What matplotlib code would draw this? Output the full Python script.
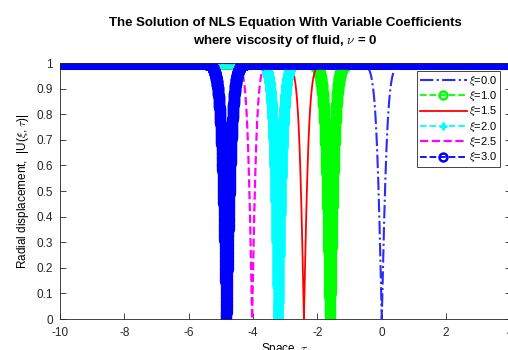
import numpy as np
import matplotlib
matplotlib.use("Agg")
import matplotlib.pyplot as plt

plt.rcParams['font.family'] = ['Liberation Sans', 'DejaVu Sans']
plt.rcParams['mathtext.fontset'] = 'cm'
plt.rcParams['axes.unicode_minus'] = False

# values
xi_values = [0.0, 1.0, 1.5, 2.0, 2.5, 3.0]
dip_centers = [0.0, -1.61, -2.42, -3.22, -4.03, -4.83]
dip_sharpness = [5.5, 6.0, 6.0, 6.0, 6.5, 5.5]
legend_labels = [r'$\xi$=%.1f' % v for v in xi_values]

# styles for each curve
styles = [
    dict(color='#2a2aff', ls='-.', lw=1.5),
    dict(color='#00ff00', ls='--', lw=1.3, marker='o', ms=6.3, mfc='none', mew=1.8),
    dict(color='#ff0000', ls='-', lw=1.3),
    dict(color='#00ffff', ls='--', lw=1.3, marker='+', ms=7, mew=2.2),
    dict(color='#ff00ff', ls='--', lw=1.6),
    dict(color='#0000ff', ls='--', lw=1.3, marker='o', ms=6.3, mfc='none', mew=1.8),
]

tau = np.linspace(-10, 10, 20001)

fig = plt.figure(figsize=(5.08, 3.5), dpi=100)
ax = fig.add_axes([60 / 508, 1 - 319 / 350, 450.5 / 508, 256 / 350])

for c, k, lab, st in zip(dip_centers, dip_sharpness, legend_labels, styles):
    U = np.abs(np.tanh(k * (tau - c)))
    ax.plot(tau, U, label=lab, **st)

ax.set_xlim(-10, 4)
ax.set_ylim(0, 1)
ax.set_xticks(np.arange(-10, 5, 2))
ax.set_yticks(np.arange(0, 1.01, 0.1))
ax.set_yticklabels(['0', '0.1', '0.2', '0.3', '0.4', '0.5', '0.6', '0.7', '0.8', '0.9', '1'])
ax.tick_params(direction='in', length=4, width=0.6, labelsize=8.5,
               colors='#262626', top=True, right=True)
ax.tick_params(axis='x', pad=6)
ax.tick_params(axis='y', pad=5)
for s in ax.spines.values():
    s.set_color('#262626')
    s.set_linewidth(0.6)

ax.set_title('The Solution of NLS Equation With Variable Coefficients\n'
             r'where viscosity of fluid, $\nu$ = 0',
             fontsize=9.5, fontweight='bold', pad=14, linespacing=1.3)
ax.set_xlabel(r'Space, $\tau$', fontsize=8.5, labelpad=1)
ax.set_ylabel(r'Radial displacement,  |U($\xi$, $\tau$)|', fontsize=8.5, labelpad=4)

leg = ax.legend(loc='upper right', bbox_to_anchor=(500 / 508, 1 - 71 / 350),
                bbox_transform=fig.transFigure, fontsize=8, handlelength=4.2,
                fancybox=False, framealpha=1, edgecolor='#262626',
                borderpad=0.25, labelspacing=0.12, handletextpad=0.2,
                borderaxespad=0, markerscale=0.9)
leg.get_frame().set_linewidth(0.6)

fig.savefig('out.png', dpi=100)
